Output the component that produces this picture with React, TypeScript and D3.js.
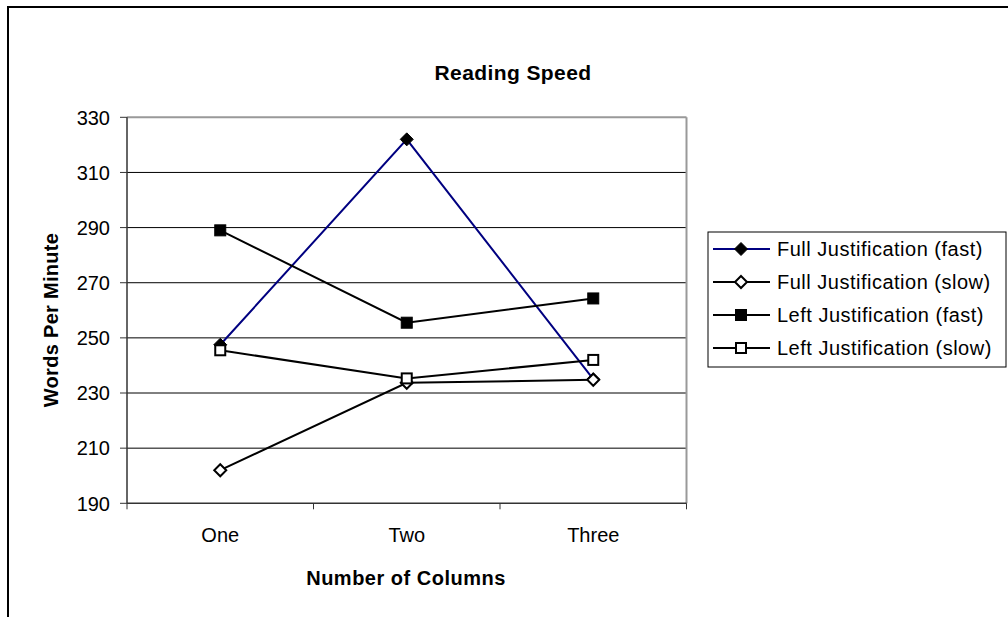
import React from "react";
import * as d3 from "d3";

const categories = ["One", "Two", "Three"];
const yTicks = [190, 210, 230, 250, 270, 290, 310, 330];
const seriesNames = [
  "Full Justification (fast)",
  "Full Justification (slow)",
  "Left Justification (fast)",
  "Left Justification (slow)",
];
const fullFast = [247.5, 322, 235];
const fullSlow = [202, 233.7, 234.8];
const leftFast = [289, 255.5, 264.3];
const leftSlow = [245.5, 235.3, 242];

const seriesValues = [fullFast, fullSlow, leftFast, leftSlow];
const seriesStyle = [
  { color: "#000080", marker: "diamond", filled: true },
  { color: "#000000", marker: "diamond", filled: false },
  { color: "#000000", marker: "square", filled: true },
  { color: "#000000", marker: "square", filled: false },
];

const FONT = "Arimo, 'Liberation Sans', Arial, Helvetica, sans-serif";

function Marker({ x, y, kind, filled }: { x: number; y: number; kind: string; filled: boolean }) {
  const fill = filled ? "#000" : "#fff";
  if (kind === "diamond") {
    const r = filled ? 6.5 : 6;
    const path = `M${x},${y - r}L${x + r},${y}L${x},${y + r}L${x - r},${y}Z`;
    return <path d={path} fill={fill} stroke="#000" strokeWidth={filled ? 1 : 2} />;
  }
  const s = filled ? 11 : 10;
  return (
    <rect x={x - s / 2} y={y - s / 2} width={s} height={s} fill={fill} stroke="#000" strokeWidth={filled ? 1 : 2} />
  );
}

export default function App() {
  const W = 1008;
  const H = 617;
  const left = 127;
  const right = 686.5;
  const top = 117.3;
  const bottom = 503.3;
  const x = d3.scaleBand<string>().domain(categories).range([left, right]);
  const y = d3.scaleLinear().domain([190, 330]).range([bottom, top]);
  const cx = (c: string) => (x(c) as number) + x.bandwidth() / 2;
  const line = d3
    .line<number>()
    .x((_, i) => cx(categories[i]))
    .y((d) => y(d));

  const legendRows = [249, 282, 315, 348];

  return (
    <svg
      width={W}
      height={H}
      style={{ position: "absolute", left: 0, top: 0, background: "#fff" }}
      fontFamily={FONT}
    >
      <rect x={0} y={0} width={W} height={H} fill="#fff" />
      {/* chart area border */}
      <rect x={8} y={7} width={1040} height={660} fill="none" stroke="#000" strokeWidth={2} />

      <text x={513} y={80} textAnchor="middle" fontSize={21} fontWeight="bold" letterSpacing={0.4}>
        Reading Speed
      </text>

      {/* gridlines */}
      {yTicks
        .filter((t) => t !== 190 && t !== 330)
        .map((t) => (
          <line key={t} x1={left} x2={right} y1={y(t)} y2={y(t)} stroke="#000" strokeWidth={1} />
        ))}
      {/* plot border top/right gray */}
      <line x1={left} x2={right} y1={top} y2={top} stroke="#999" strokeWidth={2} />
      <line x1={right} x2={right} y1={top} y2={bottom} stroke="#999" strokeWidth={2} />
      {/* axes */}
      <line x1={left} x2={left} y1={top} y2={bottom} stroke="#333" strokeWidth={1.5} />
      <line x1={left} x2={right} y1={bottom} y2={bottom} stroke="#333" strokeWidth={1.5} />
      {yTicks.map((t) => (
        <g key={t}>
          <line x1={left - 7} x2={left} y1={y(t)} y2={y(t)} stroke="#333" strokeWidth={1} />
          <text x={110} y={y(t)} dy="0.36em" textAnchor="end" fontSize={20}>
            {t}
          </text>
        </g>
      ))}
      {[...categories.map((c) => x(c) as number), right].map((v, i) => (
        <line key={i} x1={v} x2={v} y1={bottom} y2={bottom + 6} stroke="#333" strokeWidth={1} />
      ))}
      {categories.map((c) => (
        <text key={c} x={cx(c)} y={542} textAnchor="middle" fontSize={20}>
          {c}
        </text>
      ))}
      <text x={406} y={585} textAnchor="middle" fontSize={20} fontWeight="bold" letterSpacing={0.5}>
        Number of Columns
      </text>
      <text
        transform={`translate(58,320) rotate(-90)`}
        textAnchor="middle"
        fontSize={20}
        fontWeight="bold"
        letterSpacing={0.3}
      >
        Words Per Minute
      </text>

      {/* series */}
      {seriesValues.map((vals, si) => (
        <g key={si}>
          <path d={line(vals) || ""} fill="none" stroke={seriesStyle[si].color} strokeWidth={2} />
          {vals.map((v, i) => (
            <Marker
              key={i}
              x={cx(categories[i])}
              y={y(v)}
              kind={seriesStyle[si].marker}
              filled={seriesStyle[si].filled}
            />
          ))}
        </g>
      ))}

      {/* legend */}
      <rect x={708} y={232} width={298} height={135} fill="#fff" stroke="#000" strokeWidth={1} />
      {seriesNames.map((n, i) => (
        <g key={n}>
          <line x1={713} x2={770} y1={legendRows[i]} y2={legendRows[i]} stroke={seriesStyle[i].color} strokeWidth={2} />
          <Marker x={741} y={legendRows[i]} kind={seriesStyle[i].marker} filled={seriesStyle[i].filled} />
          <text x={777} y={legendRows[i]} dy="0.36em" fontSize={20} letterSpacing={0.5}>
            {n}
          </text>
        </g>
      ))}
    </svg>
  );
}
